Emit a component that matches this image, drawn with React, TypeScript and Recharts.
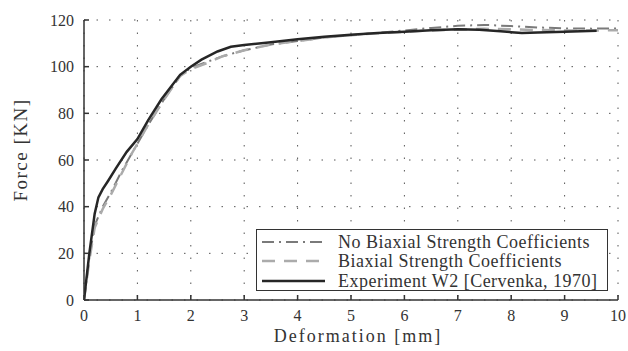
import { LineChart, Line, XAxis, YAxis, CartesianGrid, Legend } from 'recharts'

const X_TICKS = [0, 1, 2, 3, 4, 5, 6, 7, 8, 9, 10]
const Y_TICKS = [0, 20, 40, 60, 80, 100, 120]

// deformation [mm], force [KN]
const noBiaxialX = [0, 0.1, 0.2, 0.35, 0.5, 0.7, 0.9, 1.2, 1.5, 1.8, 2.0, 2.3, 2.6, 3.0, 3.5, 4.0, 4.5, 5.0, 5.5, 6.0, 6.5, 7.0, 7.5, 8.0, 8.5, 9.0, 9.5, 10]
const noBiaxialY = [0, 18, 32, 40, 46, 55, 63, 75, 86, 96, 99.5, 102, 104.5, 107, 109.5, 111, 112.5, 113.5, 114.5, 115.5, 116.6, 117.5, 117.9, 117.4, 116.8, 116.4, 116.3, 116.4]

const biaxialX = [0, 0.1, 0.2, 0.35, 0.5, 0.7, 0.9, 1.2, 1.5, 1.8, 2.0, 2.3, 2.6, 3.0, 3.5, 4.0, 4.5, 5.0, 5.5, 6.0, 6.5, 7.0, 7.5, 8.0, 8.5, 9.0, 9.5, 10]
const biaxialY = [0, 17, 31, 39, 45, 54, 63, 75, 86, 96, 99, 101.5, 104.5, 107, 109.5, 111, 112.5, 113.5, 114.3, 115, 115.5, 116, 116.2, 116, 115.7, 115.5, 115.5, 115.6]

const experimentX = [0, 0.1, 0.2, 0.27, 0.35, 0.45, 0.6, 0.8, 1.0, 1.2, 1.45, 1.6, 1.8, 2.0, 2.2, 2.5, 2.75, 3.0, 3.5, 4.0, 4.5, 5.0, 5.5, 6.0, 6.5, 7.0, 7.4, 7.8, 8.0, 8.2, 8.5, 9.0, 9.6]
const experimentY = [0, 20, 37, 44, 47.5, 51, 56.5, 63.5, 69, 77, 86, 90.5, 96.5, 100, 103, 106.5, 108.5, 109.3, 110.5, 111.8, 112.8, 113.7, 114.4, 115, 115.6, 116, 115.8, 115.2, 114.8, 114.4, 114.6, 115, 115.4]

const toPoints = (xs: number[], ys: number[]) => xs.map((x, i) => ({ x, y: ys[i] }))

const SERIES = [
  { name: 'No Biaxial Strength Coefficients', data: toPoints(noBiaxialX, noBiaxialY), color: '#7a7a7a', dash: '12 5 2 5', width: 2 },
  { name: 'Biaxial Strength Coefficients', data: toPoints(biaxialX, biaxialY), color: '#ababab', dash: '13 9', width: 2.5 },
  { name: 'Experiment W2 [Cervenka, 1970]', data: toPoints(experimentX, experimentY), color: '#262626', dash: undefined, width: 2.5 },
]

const FONT = '"Liberation Serif", "Times New Roman", serif'
const TEXT = '#333'
const AXIS = '#333'

function LegendBox() {
  return (
    <div style={{ border: `1.5px solid ${AXIS}`, background: '#fff', width: 352, height: 62, boxSizing: 'border-box', padding: '2px 0 0 0', fontFamily: FONT }}>
      {SERIES.map(s => (
        <div key={s.name} style={{ display: 'flex', alignItems: 'center', height: 19.5 }}>
          <svg width={81} height={10} style={{ flex: 'none' }}>
            <line x1={5} x2={68} y1={5} y2={5} stroke={s.color} strokeWidth={s.width} strokeDasharray={s.dash} />
          </svg>
          <span style={{ fontSize: 18, color: TEXT, letterSpacing: 0.5, whiteSpace: 'nowrap', lineHeight: 1 }}>{s.name}</span>
        </div>
      ))}
    </div>
  )
}

const noTick = () => <g />

function XLabel({ viewBox }: any) {
  return (
    <text x={viewBox.x + viewBox.width / 2 + 7} y={342} textAnchor="middle" fontSize={18} fill={TEXT} fontFamily={FONT} letterSpacing={2}>
      Deformation [mm]
    </text>
  )
}

function YLabel({ viewBox }: any) {
  const cx = 27
  const cy = viewBox.y + viewBox.height / 2 - 10
  return (
    <text x={cx} y={cy} transform={`rotate(-90, ${cx}, ${cy})`} textAnchor="middle" fontSize={19} fill={TEXT} fontFamily={FONT} letterSpacing={1.5}>
      Force [KN]
    </text>
  )
}

export default function App() {
  return (
    <div style={{ position: 'absolute', left: 0, top: 0, background: '#fff' }}>
      <LineChart width={628} height={351} margin={{ top: 20, right: 10, left: 0, bottom: 0 }}>
        <CartesianGrid stroke="#555" strokeDasharray="1.5 11" strokeWidth={1} />
        <XAxis
          xAxisId={0}
          type="number"
          dataKey="x"
          domain={[0, 10]}
          ticks={X_TICKS}
          allowDataOverflow
          height={51}
          stroke={AXIS}
          strokeWidth={1.5}
          tickSize={-5}
          tickMargin={15}
          tick={{ fontSize: 16, fill: TEXT, fontFamily: FONT }}
          label={<XLabel />}
        />
        <XAxis
          xAxisId="top"
          orientation="top"
          type="number"
          domain={[0, 10]}
          ticks={X_TICKS}
          allowDataOverflow
          height={0}
          stroke={AXIS}
          strokeWidth={1.5}
          tickSize={-5}
          tick={noTick}
        />
        <YAxis
          yAxisId={0}
          type="number"
          domain={[0, 120]}
          ticks={Y_TICKS}
          allowDataOverflow
          width={84}
          stroke={AXIS}
          strokeWidth={1.5}
          tickSize={-5}
          tickMargin={15}
          tick={{ fontSize: 16, fill: TEXT, fontFamily: FONT }}
          label={<YLabel />}
        />
        <YAxis
          yAxisId="right"
          orientation="right"
          type="number"
          domain={[0, 120]}
          ticks={Y_TICKS}
          allowDataOverflow
          width={0}
          stroke={AXIS}
          strokeWidth={1.5}
          tickSize={-5}
          tick={noTick}
        />
        <Legend
          layout="vertical"
          align="center"
          verticalAlign="middle"
          content={() => <LegendBox />}
          wrapperStyle={{ left: 256, top: 229, width: 'auto' }}
        />
        {SERIES.map(s => (
          <Line
            key={s.name}
            data={s.data}
            dataKey="y"
            name={s.name}
            type="linear"
            stroke={s.color}
            strokeWidth={s.width}
            strokeDasharray={s.dash}
            dot={false}
            activeDot={false}
            isAnimationActive={false}
          />
        ))}
      </LineChart>
    </div>
  )
}
